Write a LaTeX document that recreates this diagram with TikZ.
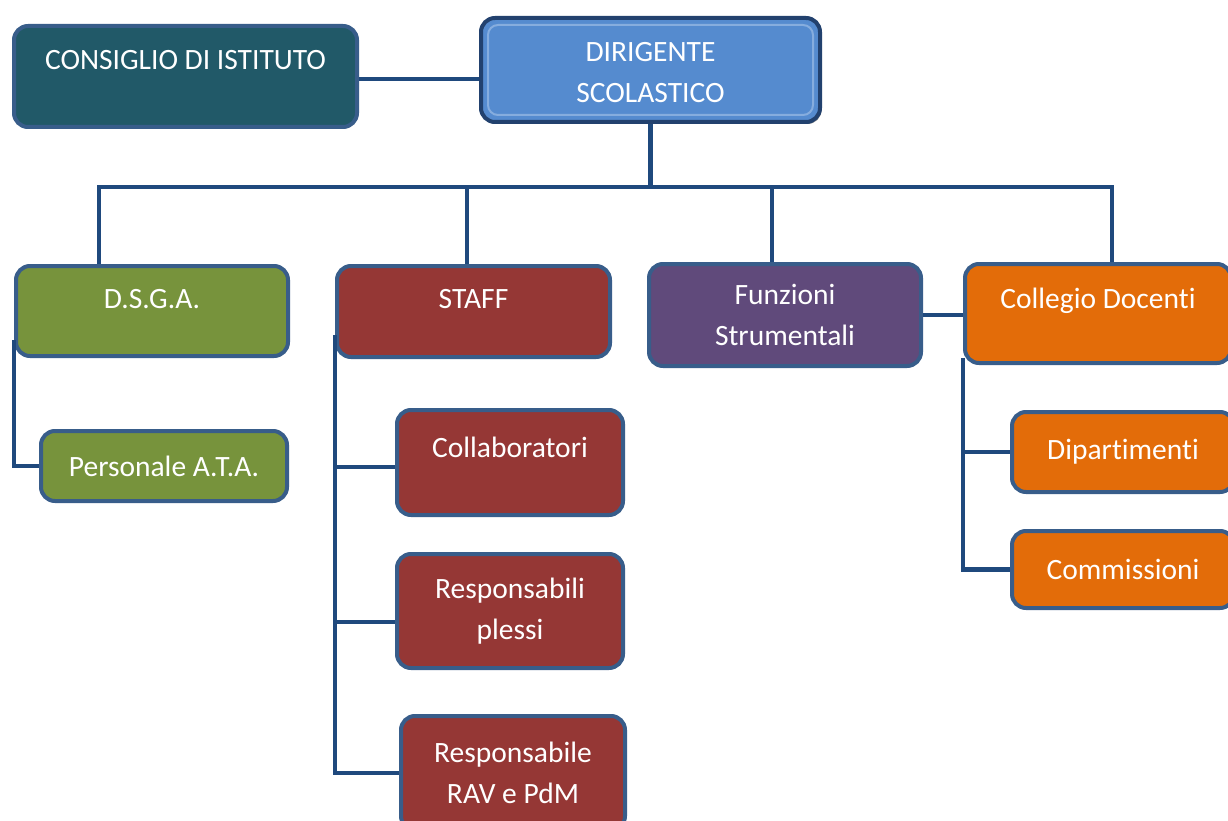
\documentclass[tikz,border=0pt]{standalone}
\usepackage{fontspec}
\setmainfont[Ligatures=NoCommon]{Carlito}
\usetikzlibrary{shadows}
\definecolor{edge}{HTML}{385D8A}
\definecolor{linkcol}{HTML}{1F497D}
\definecolor{consiglio}{HTML}{215968}
\definecolor{dirigente}{HTML}{558BCF}
\definecolor{dirigedge}{HTML}{22416E}
\definecolor{dirigehi}{HTML}{86ADDE}
\definecolor{dsga}{HTML}{77933C}
\definecolor{staff}{HTML}{953735}
\definecolor{funzioni}{HTML}{604A7B}
\definecolor{collegio}{HTML}{E36C09}

\begin{document}
\begin{tikzpicture}[x=1pt, y=-1pt,
	box/.style={draw=edge, line width=4pt, rounded corners=14pt, text=white, anchor=north west,
		align=center, inner sep=0pt, font=\fontsize{29.5}{41}\selectfont},
	link/.style={draw=linkcol, line width=4.5pt}]
			\useasboundingbox (0,0) rectangle (1228,821);
			\fill[white] (0,0) rectangle (1228,821);
			\clip (0,0) rectangle (1228,821);
			% top
			\node[box, fill=consiglio, minimum width=343pt, text height=44pt, text depth=57pt] (consiglio) at (12,24) {CONSIGLIO DI ISTITUTO};
			\node[box, fill=dirigente, draw=dirigedge, minimum width=339pt, text height=85pt, text depth=19pt,
				drop shadow={shadow xshift=1.5pt, shadow yshift=-2pt, opacity=.45, fill=black},
				path picture={\draw[dirigehi, line width=2pt, rounded corners=10pt]
					([shift={(7,7)}]path picture bounding box.north west) rectangle
					([shift={(-7,-7)}]path picture bounding box.south east);}] (dirigente) at (479,16) {DIRIGENTE\\SCOLASTICO};
			% second row
			\node[box, fill=dsga, minimum width=272pt, text height=42pt, text depth=48pt] (dsga) at (14,264) {D.S.G.A.};
			\node[box, fill=staff, minimum width=273pt, text height=42pt, text depth=49pt] (staff) at (335,264) {STAFF};
			\node[box, fill=funzioni, minimum width=272pt, minimum height=102pt] (funzioni) at (647,262) {Funzioni\\Strumentali};
			\node[box, fill=collegio, minimum width=266pt, text height=44pt, text depth=55pt] (collegio) at (963,262) {Collegio Docenti};
			% lower boxes
			\node[box, fill=dsga, minimum width=246pt, minimum height=70pt] (personale) at (39,429) {Personale A.T.A.};
			\node[box, fill=staff, minimum width=226pt, text height=47pt, text depth=58pt] (collab) at (395,408) {Collaboratori};
			\node[box, fill=staff, minimum width=226pt, minimum height=114pt] (respl) at (395,552) {Responsabili\\plessi};
			\node[box, fill=staff, minimum width=224pt, minimum height=114pt] (rav) at (399,714) {Responsabile\\RAV e PdM};
			\node[box, fill=collegio, minimum width=222pt, minimum height=80pt] (dipart) at (1010,410) {Dipartimenti};
			\node[box, fill=collegio, minimum width=222pt, minimum height=77pt] (commiss) at (1010,529) {Commissioni};
			% connectors
			\coordinate (busl) at (99,187);
			\coordinate (busr) at (1112,187);
			\draw[link] (consiglio.east |- 0,79) -- (dirigente.west |- 0,79);
			\draw[link] (dirigente.south) -- (dirigente.south |- busl);
			\draw[link] (busl |- dsga.north) -- (busl) -- (busr) -- (busr |- collegio.north);
			\draw[link] (467,187) -- (467,0 |- staff.north);
			\draw[link] (772,187) -- (772,0 |- funzioni.north);
			\draw[link] (funzioni.east) -- (collegio.west |- funzioni.east);
			\draw[link] (dsga.west |- 0,340) |- (personale.west);
			\draw[link] (staff.west |- 0,335) |- (rav.west);
			\draw[link] (staff.west |- 0,467) -- (collab.west |- 0,467);
			\draw[link] (staff.west |- 0,622) -- (respl.west |- 0,622);
			\draw[link] (collegio.west |- 0,358) |- (commiss.west);
			\draw[link] (collegio.west |- dipart.west) -- (dipart.west);
		\end{tikzpicture}
\end{document}
